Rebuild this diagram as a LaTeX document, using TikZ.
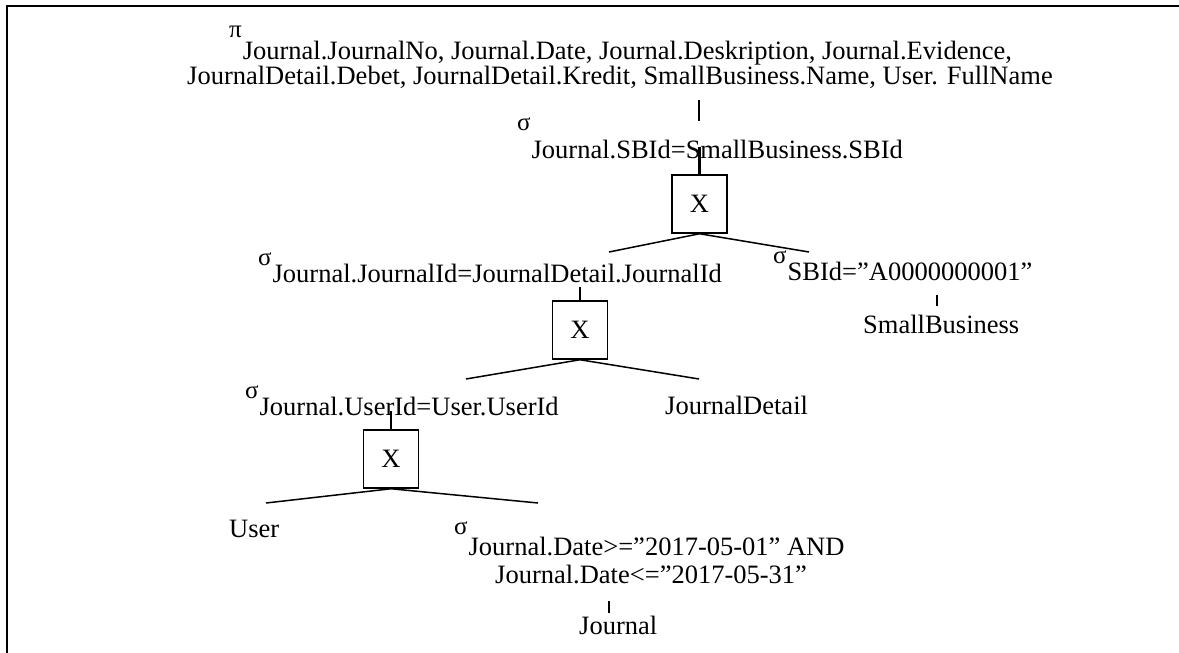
\documentclass[tikz,border=0pt]{standalone}
\usepackage{fontspec}
\setmainfont{Liberation Serif}
\newcommand{\op}[2][17pt]{\raisebox{#1}{\fontsize{25}{25}\selectfont #2}\kern1pt}

\begin{document}
\begin{tikzpicture}[x=1pt,y=-1pt,
  txt/.style={inner sep=0pt,anchor=base west,font=\fontsize{26.5}{28}\selectfont},
  crossbox/.style={draw,line width=1.5pt,minimum width=55pt,minimum height=58pt,inner sep=0pt,font=\fontsize{26.5}{28}\selectfont},
  stem/.style={line width=2.5pt},
  edgeline/.style={line width=1.5pt}]
\useasboundingbox (0,0) rectangle (1179,653);
\draw [line width=2.5pt] (7,653) -- (7,6) -- (1179,6);

\node [txt] (proj) at (229,59) {\op[22pt]{π}Journal.JournalNo, Journal.Date, Journal.Deskription, Journal.Evidence,};
\node [txt] (projcols) at (187,84) {JournalDetail.Debet, JournalDetail.Kredit, SmallBusiness.Name, User. FullName};
\node [txt] (sel1) at (517,158) {\op[28pt]{σ}Journal.SBId=SmallBusiness.SBId};
\node [crossbox] (box1) at (699.5,204) {X};
\node [txt] (sel2) at (258,282) {\op{σ}Journal.JournalId=JournalDetail.JournalId};
\node [txt] (sel3) at (773,280) {\op{σ}SBId=”A0000000001”};
\node [txt] (sb) at (863,333) {SmallBusiness};
\node [crossbox] (box2) at (580,330) {X};
\node [txt] (sel4) at (245,415) {\op{σ}Journal.UserId=User.UserId};
\node [txt] (jd) at (665,414) {JournalDetail};
\node [crossbox] (box3) at (391,459) {X};
\node [txt] (user) at (229,537) {User};
\node [txt] (sel5) at (454,555) {\op[21pt]{σ}Journal.Date>=”2017-05-01” AND};
\node [txt] (sel5b) at (495,583) {Journal.Date<=”2017-05-31”};
\node [txt] (journal) at (579,634) {Journal};

\coordinate (tk1) at (699,100);
\coordinate (tk3) at (937,295);
\coordinate (tk6) at (609,601);
\coordinate (b1l) at (609,252);
\coordinate (b1r) at (809,252);
\coordinate (b2l) at (466,379);
\coordinate (b2r) at (699,379);
\coordinate (b3l) at (266,503);
\coordinate (b3r) at (538,503);

\draw [stem] (tk1) -- ++(0,21);
\draw [stem] (box1.north) -- ++(0,-27);
\draw [stem] (tk3) -- ++(0,11);
\draw [stem] (box2.north) -- ++(0,-13);
\draw [stem] (box3.north) -- ++(0,-18);
\draw [stem] (tk6) -- ++(0,12);

\draw [edgeline] (b1l) -- (box1.south) -- (b1r);
\draw [edgeline] (b2l) -- (box2.south) -- (b2r);
\draw [edgeline] (b3l) -- (box3.south) -- (b3r);
\end{tikzpicture}
\end{document}
